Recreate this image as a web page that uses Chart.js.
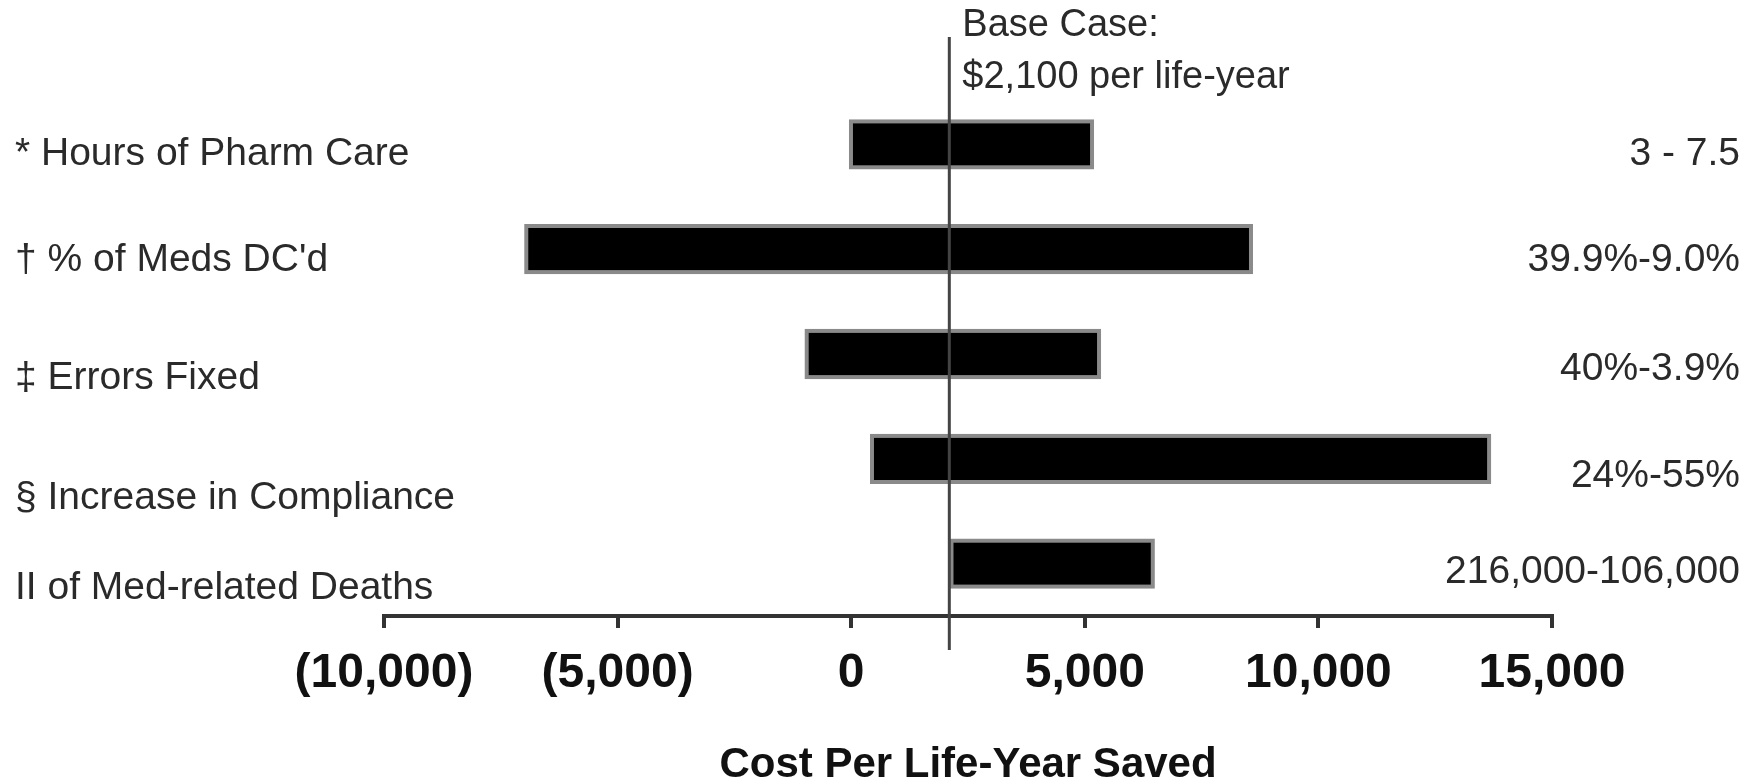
<!DOCTYPE html>
<html>
<head>
<meta charset="utf-8">
<script src="https://cdn.jsdelivr.net/npm/chart.js@4.4.1/dist/chart.umd.min.js"></script>
<style>
  body { margin: 0; background: #fff; }
  #wrap { width: 1757px; height: 780px; position: relative; }
</style>
</head>
<body>
<div id="wrap"><canvas id="tornado"></canvas></div>
<script>
// Tornado chart data
const factors = ['* Hours of Pharm Care', '\u2020 % of Meds DC\'d', '\u2021 Errors Fixed', '\u00a7 Increase in Compliance', 'II of Med-related Deaths'];
const ranges = ['3 - 7.5', '39.9%-9.0%', '40%-3.9%', '24%-55%', '216,000-106,000'];
const lowCost = [-50, -7000, -1000, 400, 2100];
const highCost = [5200, 8600, 5350, 13700, 6500];
const baseCase = 2100;
const baseCaseText = ['Base Case:', '$2,100 per life-year'];
const xTicks = [-10000, -5000, 0, 5000, 10000, 15000];

const FONT = "'Liberation Sans', Arial, sans-serif";

// label nudges (px) so row text sits like the original
const leftShift = [10, 11, 24, 39, 25];
const rightShift = [10, 11, 15, 17, 9];

const annotations = {
    id: 'annotations',
    afterDatasetsDraw(chart) {
        const ctx = chart.ctx;
        const x = chart.scales.x;
        const y = chart.scales.y;
        const bx = x.getPixelForValue(baseCase);

        ctx.save();
        // base case line
        ctx.strokeStyle = '#444';
        ctx.lineWidth = 3;
        ctx.beginPath();
        ctx.moveTo(bx, 37);
        ctx.lineTo(bx, chart.chartArea.bottom + 34);
        ctx.stroke();

        ctx.fillStyle = '#2a2a2a';
        ctx.font = '38px ' + FONT;
        ctx.textBaseline = 'middle';
        ctx.textAlign = 'left';
        ctx.fillText(baseCaseText[0], bx + 13, 26);
        ctx.fillText(baseCaseText[1], bx + 13, 78);

        ctx.font = '39px ' + FONT;
        factors.forEach((f, i) => {
            ctx.textAlign = 'left';
            ctx.fillText(f, 15, y.getPixelForValue(i) + leftShift[i]);
            ctx.textAlign = 'right';
            ctx.fillText(ranges[i], 1740, y.getPixelForValue(i) + rightShift[i]);
        });
        ctx.restore();
    }
};

new Chart(document.getElementById('tornado'), {
    type: 'bar',
    data: {
        labels: factors,
        datasets: [{
            data: lowCost.map((lo, i) => [lo, highCost[i]]),
            backgroundColor: '#000',
            borderColor: '#8a8a8a',
            borderWidth: 4,
            borderSkipped: false,
            categoryPercentage: 1,
            barPercentage: 0.48
        }]
    },
    options: {
        indexAxis: 'y',
        responsive: true,
        maintainAspectRatio: false,
        animation: false,
        layout: { padding: { left: 384, right: 205, top: 92, bottom: -11 } },
        scales: {
            x: {
                min: -10000,
                max: 15000,
                afterBuildTicks: (s) => { s.ticks = xTicks.map(v => ({ value: v })); },
                grid: { drawOnChartArea: false, drawTicks: true, tickLength: 12, color: '#333', lineWidth: 4 },
                border: { color: '#333', width: 4 },
                ticks: {
                    color: '#111',
                    padding: 17,
                    font: { family: FONT, size: 48, weight: 'bold' },
                    callback: (v) => v < 0 ? '(' + Math.abs(v).toLocaleString('en-US') + ')' : v.toLocaleString('en-US')
                },
                title: {
                    display: true,
                    text: 'Cost Per Life-Year Saved',
                    color: '#111',
                    padding: { top: 21, bottom: 0 },
                    font: { family: FONT, size: 42, weight: 'bold' }
                }
            },
            y: { display: false }
        },
        plugins: {
            legend: { display: false },
            tooltip: { enabled: false }
        }
    },
    plugins: [annotations]
});
</script>
</body>
</html>
